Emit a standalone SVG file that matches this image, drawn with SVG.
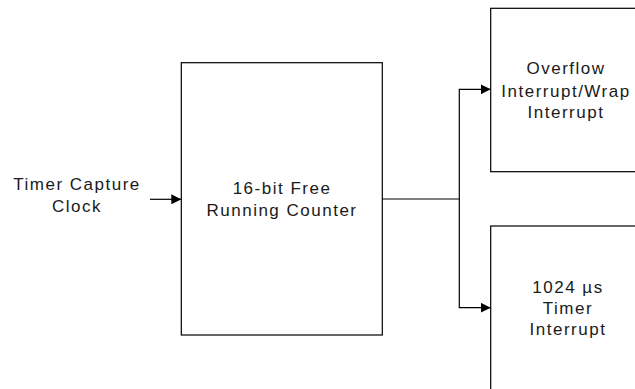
<svg xmlns="http://www.w3.org/2000/svg" width="635" height="389" viewBox="0 0 635 389">
  <defs>
    <marker id="arrow" viewBox="0 0 10 10" refX="10" refY="5" markerWidth="10" markerHeight="10" markerUnits="userSpaceOnUse" orient="auto">
      <path d="M0,0 L10,5 L0,10 z" fill="#000"/>
    </marker>
  </defs>
  <style>
    .box { fill: #fff; stroke: #000; stroke-width: 1.2; }
    .wire { fill: none; stroke: #000; stroke-width: 1.2; }
    .lbl { font-family: "Liberation Sans", Arial, sans-serif; font-size: 17px; letter-spacing: 1.5px; fill: #1a1a1a; text-anchor: middle; }
  </style>
  <rect width="635" height="389" fill="#fff"/>

  <g id="capture-clock">
    <text class="lbl" x="77" y="190">Timer Capture</text>
    <text class="lbl" x="77" y="211.5">Clock</text>
  </g>

  <g id="counter">
    <rect class="box" x="181.3" y="62.7" width="201" height="272.3"/>
    <text class="lbl" x="282" y="194">16-bit Free</text>
    <text class="lbl" x="282" y="215.5">Running Counter</text>
  </g>

  <g id="overflow-interrupt">
    <rect class="box" x="490.7" y="8.3" width="160" height="163.4"/>
    <text class="lbl" x="566" y="74">Overflow</text>
    <text class="lbl" x="566" y="96.5">Interrupt/Wrap</text>
    <text class="lbl" x="566" y="118">Interrupt</text>
  </g>

  <g id="timer-interrupt">
    <rect class="box" x="490.7" y="226" width="160" height="180"/>
    <text class="lbl" x="568" y="292.5">1024 µs</text>
    <text class="lbl" x="568" y="314">Timer</text>
    <text class="lbl" x="568" y="335">Interrupt</text>
  </g>

  <g id="connectors">
    <path class="wire" d="M150,199.3 H181.3" marker-end="url(#arrow)"/>
    <path class="wire" d="M382.3,199 H459.3 V89.3 H490.7" marker-end="url(#arrow)"/>
    <path class="wire" d="M459.3,199 V307.7 H490.7" marker-end="url(#arrow)"/>
  </g>
</svg>
